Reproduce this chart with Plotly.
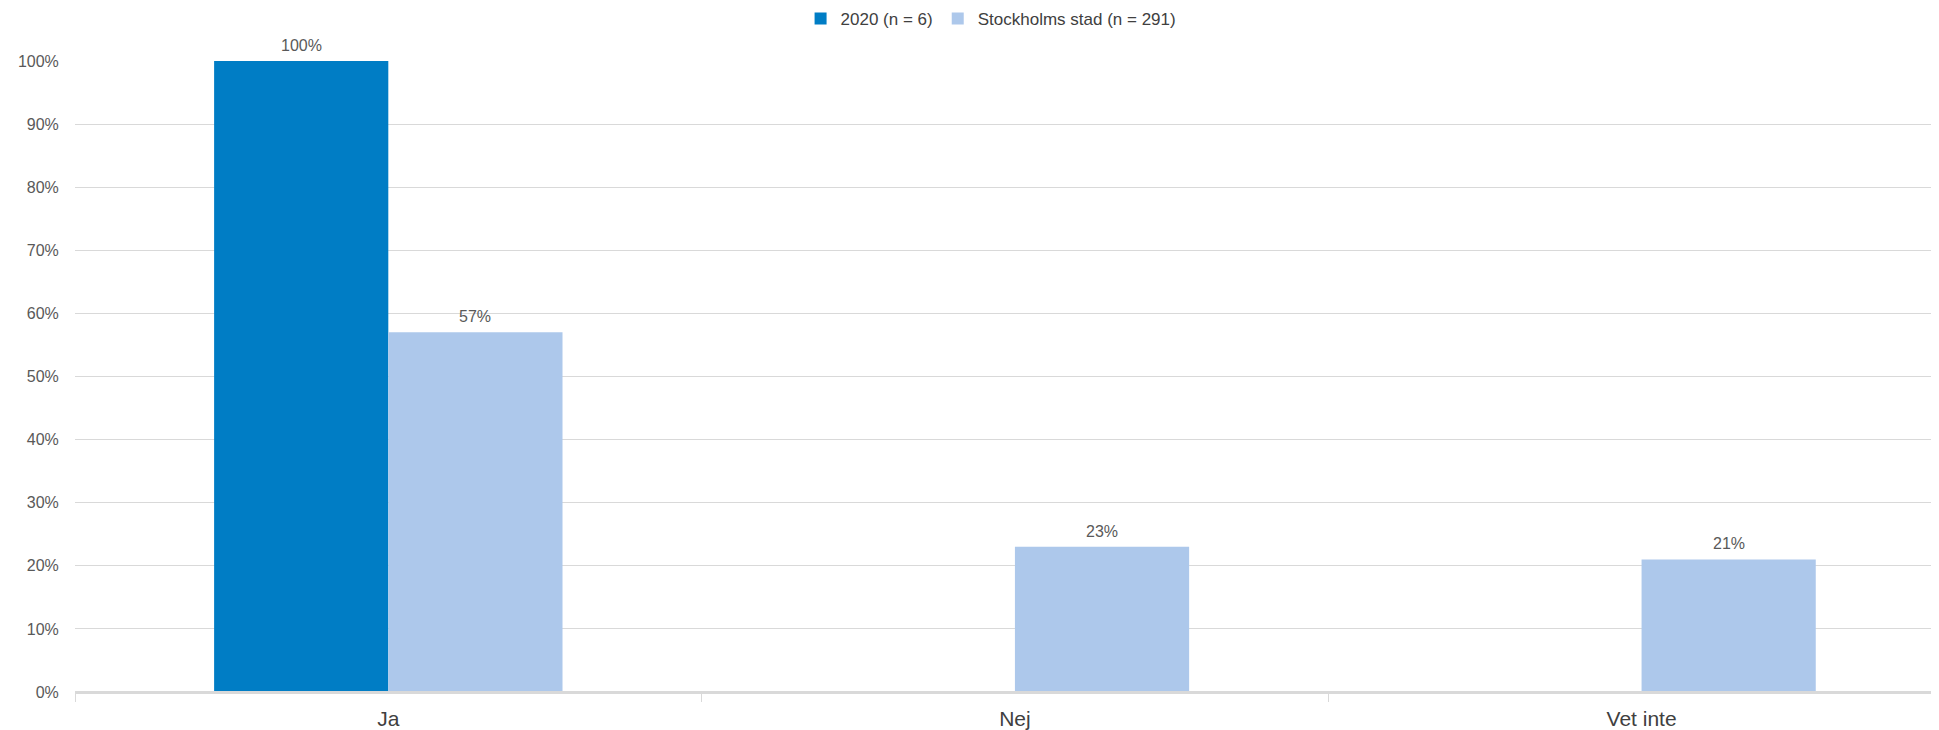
import plotly.graph_objects as go

categories = ["Ja", "Nej", "Vet inte"]
series_names = ["2020 (n = 6)", "Stockholms stad (n = 291)"]
values_2020 = [100, None, None]
values_sthlm = [57, 23, 21]
labels_2020 = ["100%", "", ""]
labels_sthlm = ["57%", "23%", "21%"]
colors = ["#007DC5", "#ADC8EB"]

fig = go.Figure()
fig.add_trace(go.Bar(x=categories, y=values_2020, name=series_names[0],
                     marker=dict(color=colors[0], line=dict(width=0))))
fig.add_trace(go.Bar(x=categories, y=values_sthlm, name=series_names[1],
                     marker=dict(color=colors[1], line=dict(width=0))))

bar_px = 174
for vals, labs, shift in [(values_2020, labels_2020, -bar_px / 2),
                          (values_sthlm, labels_sthlm, bar_px / 2)]:
    for cat, v, lab in zip(categories, vals, labs):
        if v is None:
            continue
        fig.add_annotation(x=cat, y=v, text=lab, showarrow=False, xshift=shift,
                           yanchor="bottom", yshift=5,
                           font=dict(size=16, color="#595959"))

fig.update_layout(
    width=1950, height=722,
    margin=dict(l=67, r=0, t=53, b=38, autoexpand=False),
    paper_bgcolor="white", plot_bgcolor="white",
    font=dict(family="Liberation Sans, Arial, sans-serif", color="#595959", size=16),
    barmode="group", bargap=0.444, bargroupgap=0,
    legend=dict(orientation="h", x=0.4865, xanchor="center", y=1.0666, yanchor="middle",
                yref="paper", font=dict(size=17, color="#404040"),
                itemwidth=30, traceorder="normal"),
    xaxis=dict(range=[-0.5, 2.505], showgrid=False, showline=True, linecolor="#D9D9D9",
               linewidth=2, ticks="outside", tickson="boundaries", ticklen=8,
               tickcolor="#D9D9D9", tickwidth=1, ticklabelstandoff=7,
               tickfont=dict(size=21, color="#404040")),
    yaxis=dict(range=[0, 100], dtick=10, ticksuffix="%", showgrid=True,
               gridcolor="#D9D9D9", gridwidth=1, zeroline=False, showline=False,
               ticks="outside", ticklen=12, tickcolor="rgba(0,0,0,0)",
               tickfont=dict(size=16, color="#595959")),
)
fig.add_shape(type="line", xref="paper", yref="y", x0=0, x1=1, y0=0, y1=0,
              line=dict(color="#D9D9D9", width=2))
fig.write_html("out.html")
